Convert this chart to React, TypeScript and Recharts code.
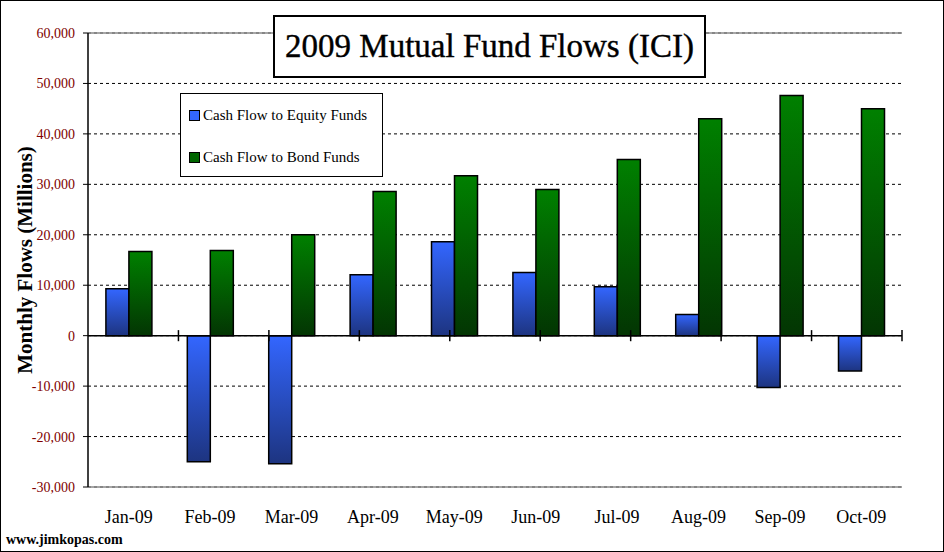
import React from 'react';
import {
  BarChart, Bar, XAxis, YAxis, CartesianGrid, ReferenceLine, Legend,
} from 'recharts';

const MONTHS = ['Jan-09', 'Feb-09', 'Mar-09', 'Apr-09', 'May-09', 'Jun-09', 'Jul-09', 'Aug-09', 'Sep-09', 'Oct-09'];
const EQUITY = [9300, -25000, -25400, 12100, 18600, 12500, 9700, 4200, -10300, -7000];
const BOND = [16700, 16900, 20000, 28600, 31700, 29000, 34900, 43000, 47600, 45000];
const Y_TICKS = [-30000, -20000, -10000, 0, 10000, 20000, 30000, 40000, 50000, 60000];
const BOUNDARIES = [1, 2, 3, 4, 5, 6, 7, 8, 9, 10];
const SERIES_ORDER = ['equity', 'bond'];

const SERIF = '"Liberation Serif", "DejaVu Serif", serif';

const data = MONTHS.map((m, i) => ({ month: m, equity: EQUITY[i], bond: BOND[i] }));

const MARKER: Record<string, string> = { equity: '#3366ff', bond: '#006600' };

function LegendBox({ payload }: { payload?: Array<{ value: string; dataKey?: string }> }) {
  const items = [...(payload || [])].sort(
    (a, b) => SERIES_ORDER.indexOf(String(a.dataKey)) - SERIES_ORDER.indexOf(String(b.dataKey)),
  );
  return (
    <div style={{
      border: '1px solid #000', background: '#fff', width: 203, height: 84,
      boxSizing: 'border-box', fontFamily: SERIF, fontSize: 15, color: '#000',
      padding: '11px 0 0 8px',
    }}>
      {items.map((p) => (
        <div key={p.value} style={{ display: 'flex', alignItems: 'center', height: 21, marginBottom: 21 }}>
          <span style={{
            width: 9, height: 9, border: '1px solid #000', background: MARKER[String(p.dataKey)],
            marginRight: 3, display: 'inline-block',
          }} />
          {p.value}
        </div>
      ))}
    </div>
  );
}

export default function App() {
  return (
    <div style={{ position: 'absolute', left: 0, top: 0, width: 944, height: 552, background: '#fff' }}>
      <BarChart
        width={944}
        height={552}
        data={data}
        margin={{ top: 33, right: 42, left: 8, bottom: 35 }}
        barCategoryGap="22%"
        barGap={0}
      >
        <defs>
          <linearGradient id="gEquity" x1="0" y1="0" x2="0" y2="1">
            <stop offset="0%" stopColor="#3366ff" />
            <stop offset="100%" stopColor="#1d3480" />
          </linearGradient>
          <linearGradient id="gBond" x1="0" y1="0" x2="0" y2="1">
            <stop offset="0%" stopColor="#008000" />
            <stop offset="100%" stopColor="#033503" />
          </linearGradient>
        </defs>
        <CartesianGrid vertical={false} stroke="#000" strokeDasharray="3 3" />
        <XAxis
          dataKey="month"
          axisLine={false}
          tickLine={false}
          tickSize={0}
          tickMargin={23}
          height={30}
          tick={{ fill: '#000', fontSize: 18, fontFamily: SERIF }}
        />
        <XAxis xAxisId="grid" type="number" domain={[0, 10]} hide />
        <YAxis
          domain={[-30000, 60000]}
          ticks={Y_TICKS}
          width={80}
          interval={0}
          tickSize={5}
          tickMargin={8}
          axisLine={{ stroke: '#000', strokeWidth: 1.5 }}
          tickLine={{ stroke: '#000' }}
          tick={{ fill: '#800000', fontSize: 14, fontFamily: SERIF }}
          tickFormatter={(v: number) => v.toLocaleString('en-US')}
          label={{
            value: 'Monthly Flows (Millions)', angle: -90, position: 'insideLeft', offset: 17,
            style: { textAnchor: 'middle', fontSize: 21, fontWeight: 'bold', fill: '#000', fontFamily: SERIF },
          }}
        />
        <Legend
          layout="vertical"
          align="center"
          verticalAlign="middle"
          wrapperStyle={{ left: 180, top: 93, width: 203 }}
          content={<LegendBox />}
        />
        <Bar dataKey="equity" name="Cash Flow to Equity Funds" fill="url(#gEquity)" stroke="#000" strokeWidth={1.5} isAnimationActive={false} />
        <Bar dataKey="bond" name="Cash Flow to Bond Funds" fill="url(#gBond)" stroke="#000" strokeWidth={1.5} isAnimationActive={false} />
        <ReferenceLine y={60000} stroke="#888" strokeWidth={1.5} />
        <ReferenceLine y={-30000} stroke="#888" strokeWidth={1.5} />
        <ReferenceLine xAxisId="grid" x={10} stroke="#888" strokeWidth={1.5} />
        <ReferenceLine y={0} stroke="#000" strokeWidth={1.5} />
        {BOUNDARIES.map((b) => (
          <ReferenceLine
            key={b}
            xAxisId="grid"
            segment={[{ x: b, y: -1100 }, { x: b, y: 1100 }]}
            stroke="#000"
            strokeWidth={1.5}
          />
        ))}
      </BarChart>
      <div style={{
        position: 'absolute', left: 273, top: 15, width: 433, height: 63, boxSizing: 'border-box',
        border: '2px solid #000', background: '#fff', fontFamily: SERIF, fontSize: 33,
        display: 'flex', alignItems: 'center', justifyContent: 'center', color: '#000',
        WebkitTextStroke: '0.4px #000',
      }}>
        2009 Mutual Fund Flows (ICI)
      </div>
      <div style={{
        position: 'absolute', left: 6, top: 532, fontFamily: SERIF, fontSize: 14, fontWeight: 'bold', color: '#000',
      }}>
        www.jimkopas.com
      </div>
      <div style={{
        position: 'absolute', left: 0, top: 0, width: 944, height: 552, boxSizing: 'border-box',
        border: '1px solid #000', pointerEvents: 'none',
      }} />
    </div>
  );
}
